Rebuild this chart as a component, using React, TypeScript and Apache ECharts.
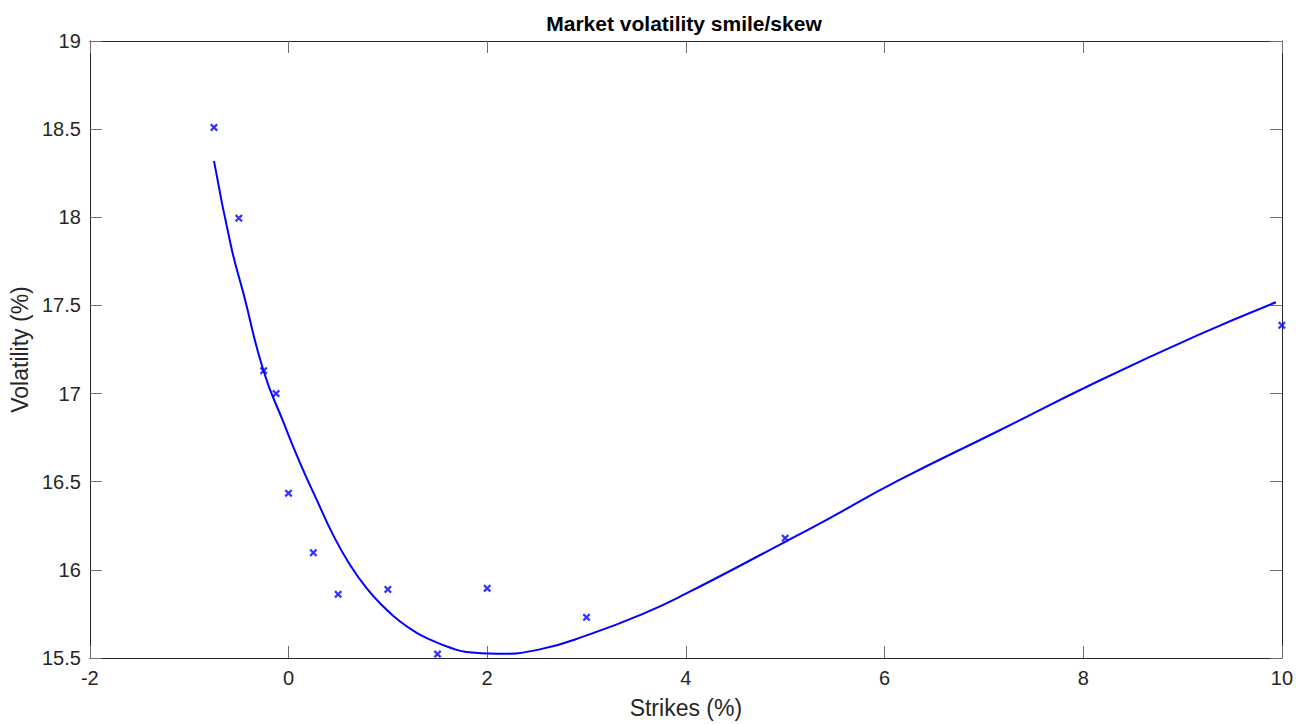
import React, { useEffect, useRef } from 'react';
import * as echarts from 'echarts';

// Market quotes (strike %, implied vol %)
const marketStrikes = [-0.75, -0.5, -0.25, -0.125, 0, 0.25, 0.5, 1, 1.5, 2, 3, 5, 10];
const marketVols = [18.51, 17.995, 17.13, 17.0, 16.435, 16.097, 15.861, 15.889, 15.522, 15.895, 15.731, 16.18, 17.387];

// Fitted smile curve
const fitStrikes = [-0.75, -0.58, -0.45, -0.25, -0.05, 0.12, 0.29, 0.45, 0.62, 0.79, 0.96, 1.12, 1.29, 1.46, 1.63, 1.79, 2.09, 2.53, 3.03, 3.55, 4.0, 5.0, 5.44, 6.14, 7.15, 8.15, 9.16, 9.94];
const fitVols = [18.32, 17.84, 17.56, 17.127, 16.836, 16.601, 16.39, 16.197, 16.028, 15.893, 15.789, 15.708, 15.643, 15.596, 15.558, 15.534, 15.524, 15.549, 15.634, 15.746, 15.865, 16.159, 16.291, 16.507, 16.789, 17.07, 17.333, 17.518];

const xMin = -2;
const xMax = 10;
const xStep = 2;
const yMin = 15.5;
const yMax = 19;
const yStep = 0.5;

const titleText = 'Market volatility smile/skew';
const xName = 'Strikes (%)';
const yName = 'Volatility (%)';

const FONT = '"Liberation Sans", Arial, Helvetica, sans-serif';
const AXIS = '#262626';

export default function App() {
  const ref = useRef<HTMLDivElement>(null);
  useEffect(() => {
    if (!ref.current) return;
    const chart = echarts.init(ref.current, undefined, { renderer: 'svg' });
    const fitData = fitStrikes.map((x, i) => [x, fitVols[i]]);
    const mktData = marketStrikes.map((x, i) => [x, marketVols[i]]);
    const tickStyle = { show: true, inside: true, length: 12, lineStyle: { color: '#6e6e6e', width: 1 } };
    const lineStyle = { show: true, onZero: false, lineStyle: { color: AXIS, width: 1 } };
    chart.setOption({
      animation: false,
      backgroundColor: '#ffffff',
      title: {
        text: titleText,
        left: 679,
        top: 8,
        textAlign: 'center',
        textStyle: { fontFamily: FONT, fontSize: 21, fontWeight: 'bold', color: '#000000' },
      },
      grid: { left: 89, right: 12, top: 41, bottom: 62, containLabel: false },
      xAxis: [
        {
          type: 'value',
          position: 'bottom',
          min: xMin,
          max: xMax,
          interval: xStep,
          name: xName,
          nameLocation: 'middle',
          nameGap: 38,
          nameTextStyle: { fontFamily: FONT, fontSize: 23, color: AXIS },
          axisLine: lineStyle,
          axisTick: tickStyle,
          splitLine: { show: false },
          axisLabel: { fontFamily: FONT, fontSize: 20, color: AXIS, margin: 10, showMinLabel: true, showMaxLabel: true },
        },
        {
          type: 'value',
          position: 'top',
          min: xMin,
          max: xMax,
          interval: xStep,
          axisLine: lineStyle,
          axisTick: tickStyle,
          splitLine: { show: false },
          axisLabel: { show: false },
        },
      ],
      yAxis: [
        {
          type: 'value',
          position: 'left',
          min: yMin,
          max: yMax,
          interval: yStep,
          name: yName,
          nameLocation: 'middle',
          nameGap: 52,
          nameTextStyle: { fontFamily: FONT, fontSize: 23, color: AXIS },
          axisLine: lineStyle,
          axisTick: tickStyle,
          splitLine: { show: false },
          axisLabel: { fontFamily: FONT, fontSize: 20, color: AXIS, margin: 9, showMinLabel: true, showMaxLabel: true },
        },
        {
          type: 'value',
          position: 'right',
          min: yMin,
          max: yMax,
          interval: yStep,
          axisLine: lineStyle,
          axisTick: tickStyle,
          splitLine: { show: false },
          axisLabel: { show: false },
        },
      ],
      series: [
        {
          name: 'Fitted smile',
          type: 'line',
          data: fitData,
          xAxisIndex: 0,
          yAxisIndex: 0,
          smooth: 0.5,
          showSymbol: false,
          symbol: 'none',
          lineStyle: { color: '#0000ff', width: 2 },
          clip: false,
          z: 3,
        },
        {
          name: 'Market',
          type: 'scatter',
          data: mktData,
          xAxisIndex: 0,
          yAxisIndex: 0,
          symbol: 'path://M0,2 L2,0 L5,3 L8,0 L10,2 L7,5 L10,8 L8,10 L5,7 L2,10 L0,8 L3,5 Z',
          symbolSize: 8,
          itemStyle: { color: '#0000ff' },
          clip: false,
          z: 4,
        },
      ],
    });
    return () => chart.dispose();
  }, []);
  return (
    <div
      ref={ref}
      style={{ position: 'fixed', left: 0, top: 0, width: 1296, height: 724, background: '#fff' }}
    />
  );
}
